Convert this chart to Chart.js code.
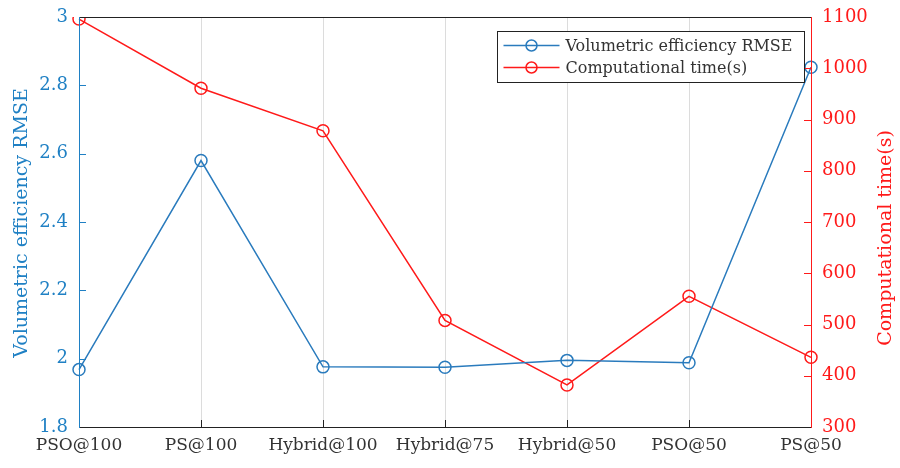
<!DOCTYPE html>
<html><head><meta charset="utf-8">
<script src="https://cdn.jsdelivr.net/npm/chart.js@4/dist/chart.umd.min.js"></script>
<style>html,body{margin:0;padding:0;background:#fff}#wrap{width:900px;height:468px}</style>
</head><body><div id="wrap"><canvas id="c" width="900" height="468"></canvas></div>
<script>
const categories = ["PSO@100","PS@100","Hybrid@100","Hybrid@75","Hybrid@50","PSO@50","PS@50"];
const rmse = [1.968, 2.58, 1.976, 1.975, 1.995, 1.988, 2.853];
const compTime = [1096, 961, 878, 508, 382, 555, 436];
const rmseTicks = [1.8, 2, 2.2, 2.4, 2.6, 2.8, 3];
const timeTicks = [300, 400, 500, 600, 700, 800, 900, 1000, 1100];
const leftTitle = 'Volumetric efficiency RMSE';
const rightTitle = 'Computational time(s)';
const BLUE = '#2a7bbd', BLUEL = '#1f80c4', RED = '#ff1a1a';
const FONT = '"DejaVu Serif", serif';

const framePlugin = {
  id: 'frame',
  afterDraw(chart) {
    const {ctx, chartArea: a, scales} = chart;
    ctx.save();
    ctx.lineWidth = 1;
    ctx.strokeStyle = BLUEL;
    scales.y.ticks.forEach(t => { const y = Math.round(scales.y.getPixelForValue(t.value)) + 0.5;
      ctx.beginPath(); ctx.moveTo(a.left, y); ctx.lineTo(a.left + 7, y); ctx.stroke(); });
    ctx.strokeStyle = RED;
    scales.y1.ticks.forEach(t => { const y = Math.round(scales.y1.getPixelForValue(t.value)) + 0.5;
      ctx.beginPath(); ctx.moveTo(a.right, y); ctx.lineTo(a.right - 7, y); ctx.stroke(); });
    ctx.strokeStyle = '#222';
    categories.forEach((c, i) => { const x = Math.round(scales.x.getPixelForValue(i)) + 0.5;
      ctx.beginPath(); ctx.moveTo(x, a.bottom); ctx.lineTo(x, a.bottom - 7); ctx.stroke(); });
    ctx.strokeStyle = '#222';
    ctx.beginPath(); ctx.moveTo(a.left, a.top + 0.5); ctx.lineTo(a.right, a.top + 0.5); ctx.stroke();
    ctx.beginPath(); ctx.moveTo(a.left, a.bottom + 0.5); ctx.lineTo(a.right, a.bottom + 0.5); ctx.stroke();
    ctx.strokeStyle = BLUEL;
    ctx.beginPath(); ctx.moveTo(a.left + 0.5, a.top); ctx.lineTo(a.left + 0.5, a.bottom + 1); ctx.stroke();
    ctx.strokeStyle = RED;
    ctx.beginPath(); ctx.moveTo(a.right + 0.5, a.top); ctx.lineTo(a.right + 0.5, a.bottom + 1); ctx.stroke();
    ctx.font = '19px ' + FONT; ctx.textAlign = 'center'; ctx.textBaseline = 'middle';
    ctx.fillStyle = BLUEL;
    ctx.save(); ctx.translate(22, 223); ctx.rotate(-Math.PI / 2); ctx.fillText(leftTitle, 0, 0); ctx.restore();
    ctx.fillStyle = RED;
    ctx.save(); ctx.translate(886, 238); ctx.rotate(-Math.PI / 2); ctx.fillText(rightTitle, 0, 0); ctx.restore();
    const bx = 497.5, by = 31.5, bw = 307, bh = 51;
    ctx.fillStyle = '#fff'; ctx.fillRect(bx, by, bw, bh);
    ctx.strokeStyle = '#222'; ctx.lineWidth = 1; ctx.strokeRect(bx, by, bw, bh);
    ctx.font = '16px ' + FONT; ctx.textBaseline = 'middle'; ctx.textAlign = 'left';
    chart.data.datasets.forEach((ds, i) => {
      const y = by + 14 + i * 22;
      ctx.strokeStyle = ds.borderColor; ctx.lineWidth = 1.5;
      ctx.beginPath(); ctx.moveTo(bx + 6, y); ctx.lineTo(bx + 62, y); ctx.stroke();
      ctx.beginPath(); ctx.arc(bx + 34, y, 5.5, 0, Math.PI * 2); ctx.stroke();
      ctx.fillStyle = '#333'; ctx.fillText(ds.label, bx + 68, y + 1);
    });
    ctx.restore();
  }
};

new Chart(document.getElementById('c'), {
  type: 'line',
  data: {
    labels: categories,
    datasets: [
      { label: leftTitle, data: rmse, yAxisID: 'y', borderColor: BLUE, backgroundColor: 'rgba(0,0,0,0)',
        borderWidth: 1.5, pointRadius: 6, pointBorderWidth: 1.5, pointBackgroundColor: 'rgba(0,0,0,0)', tension: 0 },
      { label: rightTitle, data: compTime, yAxisID: 'y1', borderColor: RED, backgroundColor: 'rgba(0,0,0,0)',
        borderWidth: 1.5, pointRadius: 6, pointBorderWidth: 1.5, pointBackgroundColor: 'rgba(0,0,0,0)', tension: 0 }
    ]
  },
  options: {
    responsive: false, animation: false,
    layout: { padding: { top: 17, left: 0, right: 0, bottom: 0 } },
    plugins: { legend: { display: false }, tooltip: { enabled: false } },
    scales: {
      x: {
        offset: false,
        grid: { display: true, color: '#dcdcdc', drawTicks: false, drawOnChartArea: true },
        border: { display: false },
        ticks: { color: '#333', font: { family: FONT, size: 17 }, padding: 8, maxRotation: 0, autoSkip: false },
        afterFit(s) { s.height = 41; s.paddingLeft = 0; s.paddingRight = 0; }
      },
      y: {
        position: 'left', min: 1.8, max: 3,
        afterBuildTicks(s) { s.ticks = rmseTicks.map(v => ({ value: v })); },
        grid: { display: false, drawTicks: false }, border: { display: false },
        ticks: { color: BLUEL, font: { family: FONT, size: 18 }, padding: 11, callback: v => String(v) },
        afterFit(s) { s.width = 79; s.paddingTop = 0; s.paddingBottom = 0; }
      },
      y1: {
        position: 'right', min: 300, max: 1100,
        afterBuildTicks(s) { s.ticks = timeTicks.map(v => ({ value: v })); },
        grid: { display: false, drawTicks: false }, border: { display: false },
        ticks: { color: RED, font: { family: FONT, size: 18 }, padding: 11, callback: v => String(v) },
        afterFit(s) { s.width = 89; s.paddingTop = 0; s.paddingBottom = 0; }
      }
    }
  },
  plugins: [framePlugin]
});
</script></body></html>
